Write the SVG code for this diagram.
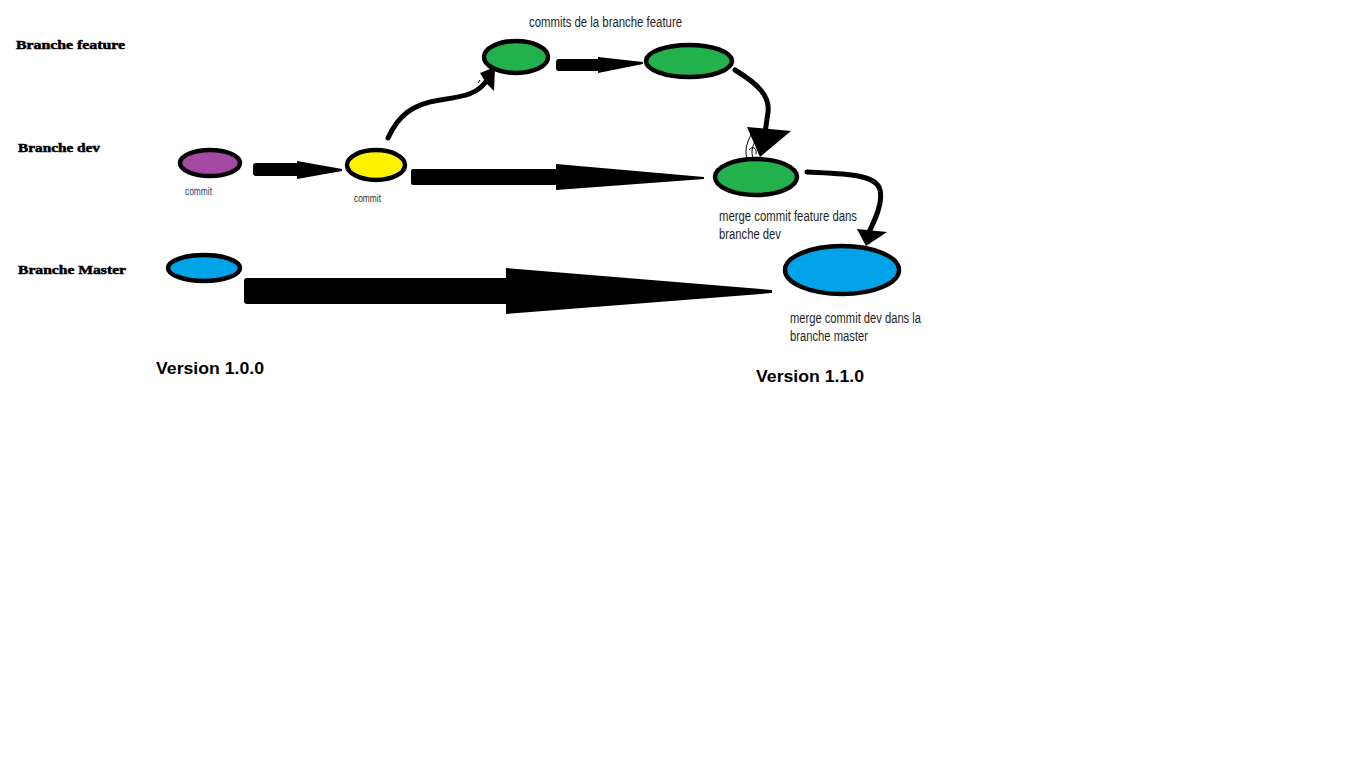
<svg xmlns="http://www.w3.org/2000/svg" width="1360" height="765" viewBox="0 0 1360 765">
  <style>
    .node { stroke: #000; stroke-width: 4.5; }
    .branch { font-family: "Liberation Serif", "DejaVu Serif", serif; font-weight: bold; font-size: 13px; fill: #000; stroke: #000; stroke-width: 0.5; }
    .note { font-family: "Liberation Sans", "DejaVu Sans", sans-serif; font-size: 14px; fill: #1e1e1e; }
    .small { font-family: "Liberation Sans", "DejaVu Sans", sans-serif; font-size: 10px; }
    .version { font-family: "Liberation Sans", Arial, sans-serif; font-weight: bold; font-size: 16px; fill: #000; }
    .wedge { fill: #000; }
    .curve { fill: none; stroke: #000; stroke-width: 5; stroke-linecap: round; }
    .scribble { fill: none; stroke: #000; stroke-width: 1; }
  </style>
  <rect width="1360" height="765" fill="#fff"/>

  <!-- branch titles -->
  <g id="branch-labels">
    <text class="branch" x="16" y="49" textLength="109" lengthAdjust="spacingAndGlyphs">Branche feature</text>
    <text class="branch" x="18" y="152" textLength="82" lengthAdjust="spacingAndGlyphs">Branche dev</text>
    <text class="branch" x="18" y="274" textLength="108" lengthAdjust="spacingAndGlyphs">Branche Master</text>
  </g>

  <!-- connectors -->
  <g id="connectors">
    <!-- dev: first commit to second commit -->
    <rect class="wedge" x="253" y="163" width="46" height="13" rx="3"/>
    <polygon class="wedge" points="297,161 297,179 342,171 342,169"/>
    <!-- dev: second commit to merge commit -->
    <rect class="wedge" x="411" y="169" width="148" height="16" rx="2"/>
    <polygon class="wedge" points="556,164 556,190 704,179 704,177"/>
    <!-- master: long wedge to merge commit -->
    <rect class="wedge" x="244" y="278" width="265" height="26" rx="3"/>
    <polygon class="wedge" points="506,268 506,314 772,293 772,290"/>
    <!-- feature: commit to commit -->
    <rect class="wedge" x="556" y="59" width="45" height="12" rx="3"/>
    <polygon class="wedge" points="598,57 598,73 643,64 643,62"/>
    <!-- dev to feature branch-off -->
    <path class="curve" d="M388,138 C398,116 412,104 440,100 C466,96 478,94 487,80"/>
    <polygon class="wedge" points="480,73 495,67 494,91 486,83"/>
    <path class="scribble" d="M480,80 L478,83"/>
    <!-- feature merged into dev -->
    <path class="curve" d="M735,70 C758,84 770,96 768,112 L765,133"/>
    <polygon class="wedge" points="747,127 791,131 760,157"/>
    <path class="scribble" d="M752,133 C748,140 744,150 747,158 M756,140 C752,146 751,152 753,158 M749,150 C752,146 757,147 756,154"/>
    <!-- dev merged into master -->
    <path class="curve" d="M807,172 C845,174 872,174 879,187 C885,200 874,222 868,234"/>
    <polygon class="wedge" points="857,229 887,232 866,246"/>
  </g>

  <!-- commits -->
  <g id="dev-commit-1">
    <ellipse class="node" cx="210" cy="163" rx="30" ry="13" fill="#A349A4"/>
    <text class="small" x="185" y="195" fill="#234080" textLength="27" lengthAdjust="spacingAndGlyphs">commit</text>
  </g>
  <g id="dev-commit-2">
    <ellipse class="node" cx="376" cy="165" rx="29" ry="15" fill="#FFF200"/>
    <text class="small" x="354" y="202" fill="#3a2e1a" textLength="27" lengthAdjust="spacingAndGlyphs">commit</text>
  </g>
  <g id="feature-commit-1">
    <ellipse class="node" cx="516" cy="57" rx="32" ry="16" fill="#22B14C"/>
  </g>
  <g id="feature-commit-2">
    <ellipse class="node" cx="689" cy="61" rx="43" ry="16" fill="#22B14C"/>
  </g>
  <g id="feature-caption">
    <text class="note" x="529" y="27" textLength="153" lengthAdjust="spacingAndGlyphs">commits de la branche feature</text>
  </g>
  <g id="dev-merge">
    <ellipse class="node" cx="756" cy="177" rx="41" ry="18" fill="#22B14C"/>
    <text class="note" x="719" y="221" textLength="138" lengthAdjust="spacingAndGlyphs">merge commit feature dans</text>
    <text class="note" x="719" y="239" textLength="62" lengthAdjust="spacingAndGlyphs">branche dev</text>
  </g>
  <g id="master-commit-1">
    <ellipse class="node" cx="204" cy="268" rx="36" ry="13" fill="#00A2E8"/>
  </g>
  <g id="master-merge">
    <ellipse class="node" cx="842" cy="270" rx="57" ry="24" fill="#00A2E8"/>
    <text class="note" x="790" y="323" textLength="131" lengthAdjust="spacingAndGlyphs">merge commit dev dans la</text>
    <text class="note" x="790" y="341" textLength="78" lengthAdjust="spacingAndGlyphs">branche master</text>
  </g>

  <!-- release tags -->
  <g id="versions">
    <text class="version" x="156" y="374" textLength="108" lengthAdjust="spacingAndGlyphs">Version 1.0.0</text>
    <text class="version" x="756" y="382" textLength="108" lengthAdjust="spacingAndGlyphs">Version 1.1.0</text>
  </g>
</svg>
